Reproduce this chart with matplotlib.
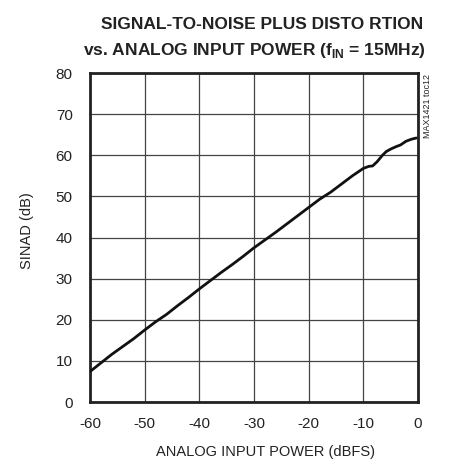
import matplotlib
matplotlib.use('Agg')
import matplotlib.pyplot as plt

plt.rcParams['font.family'] = ['Liberation Sans', 'DejaVu Sans']
plt.rcParams['mathtext.fontset'] = 'custom'
plt.rcParams['mathtext.rm'] = 'Liberation Sans:bold'
plt.rcParams['mathtext.bf'] = 'Liberation Sans:bold'

# SINAD vs analog input power
power_dbfs = [-60, -58, -56, -54, -52, -50, -48, -46, -44, -42, -40, -38, -36, -34,
              -32, -30, -28, -26, -24, -22, -20, -18, -16, -14, -12, -10, -9, -8.3,
              -7.5, -6.5, -5.8, -5, -4, -3.2, -2.2, -1.2, -0.3]
sinad_db = [7.4, 9.5, 11.6, 13.5, 15.4, 17.5, 19.5, 21.3, 23.4, 25.4, 27.5, 29.5, 31.5, 33.4,
            35.4, 37.5, 39.4, 41.3, 43.3, 45.3, 47.3, 49.3, 51.0, 53.0, 55.0, 56.8, 57.3, 57.4,
            58.4, 60.0, 60.9, 61.5, 62.1, 62.5, 63.4, 63.9, 64.2]

x_ticks = [-60, -50, -40, -30, -20, -10, 0]
y_ticks = [0, 10, 20, 30, 40, 50, 60, 70, 80]

W, H = 451, 461
fig = plt.figure(figsize=(W / 100, H / 100), dpi=100)
ax = fig.add_axes([90 / W, 1 - 402 / H, 328 / W, 329 / H])

ax.plot(power_dbfs, sinad_db, color='#111111', lw=2.0, solid_capstyle='round', zorder=3)

ax.set_xlim(-60, 0)
ax.set_ylim(0, 80)
ax.set_xticks(x_ticks)
ax.set_yticks(y_ticks)
ax.set_xticklabels([str(t) for t in x_ticks])
ax.tick_params(length=0, labelsize=11, colors='#222222', pad=10.5)
ax.tick_params(axis='y', pad=12.5)
ax.grid(True, color='#444444', lw=0.9)
ax.set_axisbelow(True)
for s in ax.spines.values():
    s.set_linewidth(2.0)
    s.set_color('#222222')

# axis titles sit a bit off-centre in the original
fig.text(265 / W, 1 - 452 / H, 'ANALOG INPUT POWER (dBFS)', ha='center', va='center',
         fontsize=10.5, color='#222222')
fig.text(27.5 / W, 1 - 230.5 / H, 'SINAD (dB)', rotation=90, ha='center', va='center',
         fontsize=10.5, color='#222222')

fig.text(262 / W, 1 - 29 / H, 'SIGNAL-TO-NOISE PLUS DISTO RTION', ha='center', va='baseline',
         fontsize=12.5, fontweight='bold', color='#222222')
fig.text(254.5 / W, 1 - 54.5 / H, r'vs. ANALOG INPUT POWER (f$_{\rm IN}$ = 15MHz)', ha='center',
         va='baseline', fontsize=12.5, fontweight='bold', color='#222222')

fig.text(428 / W, 1 - 106 / H, 'MAX1421 toc12', rotation=90, ha='center', va='center',
         fontsize=6.5, color='#222222')

fig.savefig('out.png', dpi=100)
